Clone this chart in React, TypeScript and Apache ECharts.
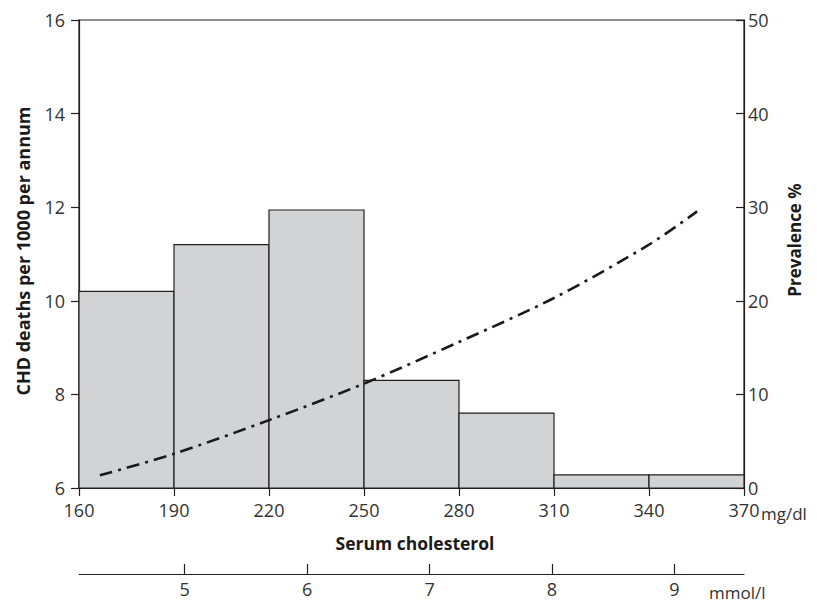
import React, { useEffect, useRef } from "react";
import * as echarts from "echarts";

// ---- data ----
const binEdges = [160, 190, 220, 250, 280, 310, 340, 370]; // mg/dl
const prevalence = [21, 26, 29.7, 11.5, 8, 1.4, 1.4]; // % (right axis)
const lineX = [166.6, 190, 220, 250, 280, 310, 340, 355.2]; // mg/dl
const chdDeaths = [6.27, 6.73, 7.45, 8.23, 9.12, 10.06, 11.2, 11.91]; // per 1000 per annum
const mgTicks = [160, 190, 220, 250, 280, 310, 340, 370];
const mmolTicks = [5, 6, 7, 8, 9];
const MG_PER_MMOL = 38.67;

const FONT = "'Open Sans', 'Noto Sans', sans-serif";
const INK = "#231f20";
const TXT = "#333333";

export default function App() {
  const ref = useRef<HTMLDivElement>(null);
  useEffect(() => {
    if (!ref.current) return;
    const chart = echarts.init(ref.current, undefined, { renderer: "svg" });
    const axisLine = { show: true, lineStyle: { color: INK, width: 1.2 } };
    const label = { color: TXT, fontSize: 18, fontFamily: FONT };
    const bars = binEdges.slice(0, -1).map((e, i) => [e, binEdges[i + 1], prevalence[i]]);
    chart.setOption({
      animation: false,
      backgroundColor: "#ffffff",
      grid: {
        left: 79,
        right: 73,
        top: 20,
        bottom: 114,
        show: true,
        borderColor: INK,
        borderWidth: 1.2,
        backgroundColor: "transparent",
      },
      xAxis: [
        {
          type: "value",
          min: 160,
          max: 370,
          position: "bottom",
          splitLine: { show: false },
          axisLine,
          axisTick: { show: true, customValues: mgTicks, length: 8, lineStyle: { color: INK, width: 1.2 } },
          axisLabel: { ...label, customValues: mgTicks, margin: 13 },
        },
        {
          type: "value",
          min: 160 / MG_PER_MMOL,
          max: 370 / MG_PER_MMOL,
          position: "bottom",
          offset: 86,
          splitLine: { show: false },
          axisLine,
          axisTick: { show: true, inside: true, customValues: mmolTicks, length: 10, lineStyle: { color: INK, width: 1.2 } },
          axisLabel: { ...label, customValues: mmolTicks, margin: 6 },
        },
      ],
      yAxis: [
        {
          type: "value",
          min: 6,
          max: 16,
          interval: 2,
          position: "left",
          splitLine: { show: false },
          axisLine,
          axisTick: { show: true, length: 8, lineStyle: { color: INK, width: 1.2 } },
          axisLabel: { ...label, margin: 14 },
        },
        {
          type: "value",
          min: 0,
          max: 50,
          interval: 10,
          position: "right",
          splitLine: { show: false },
          axisLine,
          axisTick: { show: true, inside: true, length: 8, lineStyle: { color: INK, width: 1.2 } },
          axisLabel: { ...label, margin: 4 },
        },
      ],
      series: [
        {
          type: "custom",
          xAxisIndex: 0,
          yAxisIndex: 1,
          data: bars,
          encode: { x: [0, 1], y: 2 },
          z: 2,
          renderItem: (params: any, api: any) => {
            const p0 = api.coord([api.value(0), api.value(2)]);
            const p1 = api.coord([api.value(1), 0]);
            return {
              type: "rect",
              shape: { x: p0[0], y: p0[1], width: p1[0] - p0[0], height: p1[1] - p0[1] },
              style: { fill: "#d1d3d5", stroke: INK, lineWidth: 1.2 },
            };
          },
        },
        {
          type: "line",
          xAxisIndex: 0,
          yAxisIndex: 0,
          data: lineX.map((x, i) => [x, chdDeaths[i]]),
          smooth: 0.3,
          showSymbol: false,
          z: 5,
          lineStyle: { color: "#1a1a1a", width: 2.6, type: [13, 6, 3, 6] },
        },
      ],
      graphic: [
        {
          type: "text",
          x: 761,
          y: 513,
          style: { text: "mg/dl", fill: TXT, fontSize: 17, fontFamily: FONT, textAlign: "left", textVerticalAlign: "middle" },
        },
        {
          type: "text",
          x: 415,
          y: 543,
          style: { text: "Serum cholesterol", fill: "#1a1a1a", fontSize: 17.5, fontWeight: "bold", fontFamily: FONT, textAlign: "center", textVerticalAlign: "middle" },
        },
        {
          type: "text",
          x: 709,
          y: 592,
          style: { text: "mmol/l", fill: TXT, fontSize: 17, fontFamily: FONT, textAlign: "left", textVerticalAlign: "middle" },
        },
        {
          type: "text",
          x: 23,
          y: 251,
          rotation: Math.PI / 2,
          style: { text: "CHD deaths per 1000 per annum", fill: "#1a1a1a", fontSize: 18, fontWeight: "bold", fontFamily: FONT, textAlign: "center", textVerticalAlign: "middle" },
        },
        {
          type: "text",
          x: 794,
          y: 240,
          rotation: Math.PI / 2,
          style: { text: "Prevalence %", fill: "#1a1a1a", fontSize: 17, fontWeight: "bold", fontFamily: FONT, textAlign: "center", textVerticalAlign: "middle" },
        },
      ],
    });
    return () => chart.dispose();
  }, []);
  return <div ref={ref} style={{ position: "fixed", left: 0, top: 0, width: 817, height: 602 }} />;
}
